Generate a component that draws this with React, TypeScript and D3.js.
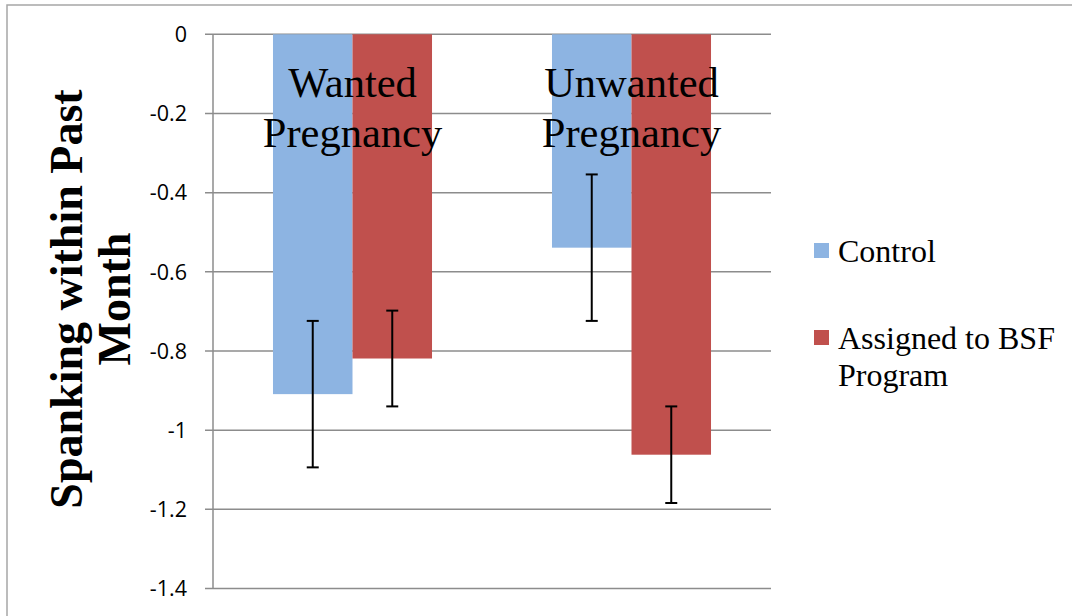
import React, { useEffect, useRef } from "react";
import * as d3 from "d3";

// Spanking within past month, by pregnancy wantedness and program assignment
const categories = ["Wanted Pregnancy", "Unwanted Pregnancy"];
const categoryLines = [["Wanted", "Pregnancy"], ["Unwanted", "Pregnancy"]];
const seriesNames = ["Control", "Assigned to BSF Program"];
const controlValues = [-0.909, -0.539];
const bsfValues = [-0.819, -1.062];
const controlErrors = [0.185, 0.185];
const bsfErrors = [0.121, 0.122];
const yTicks = [0, -0.2, -0.4, -0.6, -0.8, -1, -1.2, -1.4];
const seriesColors = ["#8DB4E2", "#C0504D"];

const W = 1072;
const H = 616;
const SERIF = "Liberation Serif";

export default function App() {
  const ref = useRef<SVGSVGElement | null>(null);

  useEffect(() => {
    const svg = d3.select(ref.current);
    svg.selectAll("*").remove();

    const plot = { left: 213, right: 771, top: 34.3, bottom: 588.5 };

    // outer chart frame
    svg
      .append("rect")
      .attr("x", 7)
      .attr("y", 5)
      .attr("width", W + 20)
      .attr("height", H + 20)
      .attr("fill", "#fff")
      .attr("stroke", "#A6A6A6")
      .attr("stroke-width", 1.5);

    const y = d3.scaleLinear().domain([0, -1.4]).range([plot.top, plot.bottom]);
    const x0 = d3
      .scaleBand<string>()
      .domain(categories)
      .range([plot.left, plot.right])
      .paddingInner(0.43)
      .paddingOuter(0.215);
    const x1 = d3
      .scaleBand<string>()
      .domain(seriesNames)
      .range([0, x0.bandwidth()]);

    // gridlines with small tick stubs left of the axis
    const grid = svg.append("g");
    yTicks.forEach((t) => {
      grid
        .append("line")
        .attr("x1", plot.left - 8)
        .attr("x2", plot.right)
        .attr("y1", y(t))
        .attr("y2", y(t))
        .attr("stroke", "#8C8C8C")
        .attr("stroke-width", 1.5);
      grid
        .append("text")
        .attr("x", 187)
        .attr("y", y(t))
        .attr("dy", "0.36em")
        .attr("text-anchor", "end")
        .attr("font-family", "Open Sans")
        .attr("font-size", 21.5)
        .attr("fill", "#000")
        .text(String(t));
    });
    grid
      .append("line")
      .attr("x1", plot.left)
      .attr("x2", plot.left)
      .attr("y1", plot.top)
      .attr("y2", plot.bottom)
      .attr("stroke", "#8C8C8C")
      .attr("stroke-width", 1.5);

    const seriesValues = [controlValues, bsfValues];
    const seriesErrors = [controlErrors, bsfErrors];

    // bars
    const bars = svg.append("g");
    seriesNames.forEach((s, si) => {
      categories.forEach((c, ci) => {
        const v = seriesValues[si][ci];
        bars
          .append("rect")
          .attr("x", (x0(c) ?? 0) + (x1(s) ?? 0))
          .attr("y", y(0))
          .attr("width", x1.bandwidth())
          .attr("height", y(v) - y(0))
          .attr("fill", seriesColors[si]);
      });
    });

    // category labels inside the plot
    const labels = svg.append("g");
    categories.forEach((c, ci) => {
      const cx = (x0(c) ?? 0) + x0.bandwidth() / 2;
      categoryLines[ci].forEach((line, li) => {
        labels
          .append("text")
          .attr("x", cx)
          .attr("y", 97 + li * 50)
          .attr("text-anchor", "middle")
          .attr("font-family", SERIF)
          .attr("font-size", 42.5)
          .attr("fill", "#000")
          .text(line);
      });
    });

    // error bars
    const errs = svg.append("g");
    seriesNames.forEach((s, si) => {
      categories.forEach((c, ci) => {
        const v = seriesValues[si][ci];
        const e = seriesErrors[si][ci];
        const cx = (x0(c) ?? 0) + (x1(s) ?? 0) + x1.bandwidth() / 2;
        const yt = y(v + e);
        const yb = y(v - e);
        errs
          .append("line")
          .attr("x1", cx)
          .attr("x2", cx)
          .attr("y1", yt)
          .attr("y2", yb)
          .attr("stroke", "#000")
          .attr("stroke-width", 2);
        [yt, yb].forEach((yy) =>
          errs
            .append("line")
            .attr("x1", cx - 6)
            .attr("x2", cx + 6)
            .attr("y1", yy)
            .attr("y2", yy)
            .attr("stroke", "#000")
            .attr("stroke-width", 2)
        );
      });
    });

    // y-axis title
    const title = svg
      .append("text")
      .attr("transform", `translate(92, 299) rotate(-90)`)
      .attr("text-anchor", "middle")
      .attr("font-family", SERIF)
      .attr("font-weight", "bold")
      .attr("font-size", 46)
      .attr("fill", "#000");
    title.append("tspan").attr("x", 0).attr("y", -10).text("Spanking within Past");
    title.append("tspan").attr("x", 0).attr("y", 38).text("Month");

    // legend
    const legend = svg.append("g");
    const legendItems = [
      { lines: ["Control"], sq: 243 },
      { lines: ["Assigned to BSF", "Program"], sq: 330 },
    ];
    legendItems.forEach((item, i) => {
      legend
        .append("rect")
        .attr("x", 814)
        .attr("y", item.sq)
        .attr("width", 15)
        .attr("height", 15)
        .attr("fill", seriesColors[i]);
      item.lines.forEach((ln, li) => {
        legend
          .append("text")
          .attr("x", 838)
          .attr("y", item.sq + 19 + li * 37)
          .attr("font-family", SERIF)
          .attr("font-size", 32)
          .attr("fill", "#000")
          .text(ln);
      });
    });
  }, []);

  return (
    <svg
      ref={ref}
      width={W}
      height={H}
      style={{ position: "absolute", left: 0, top: 0, background: "#fff" }}
    />
  );
}
